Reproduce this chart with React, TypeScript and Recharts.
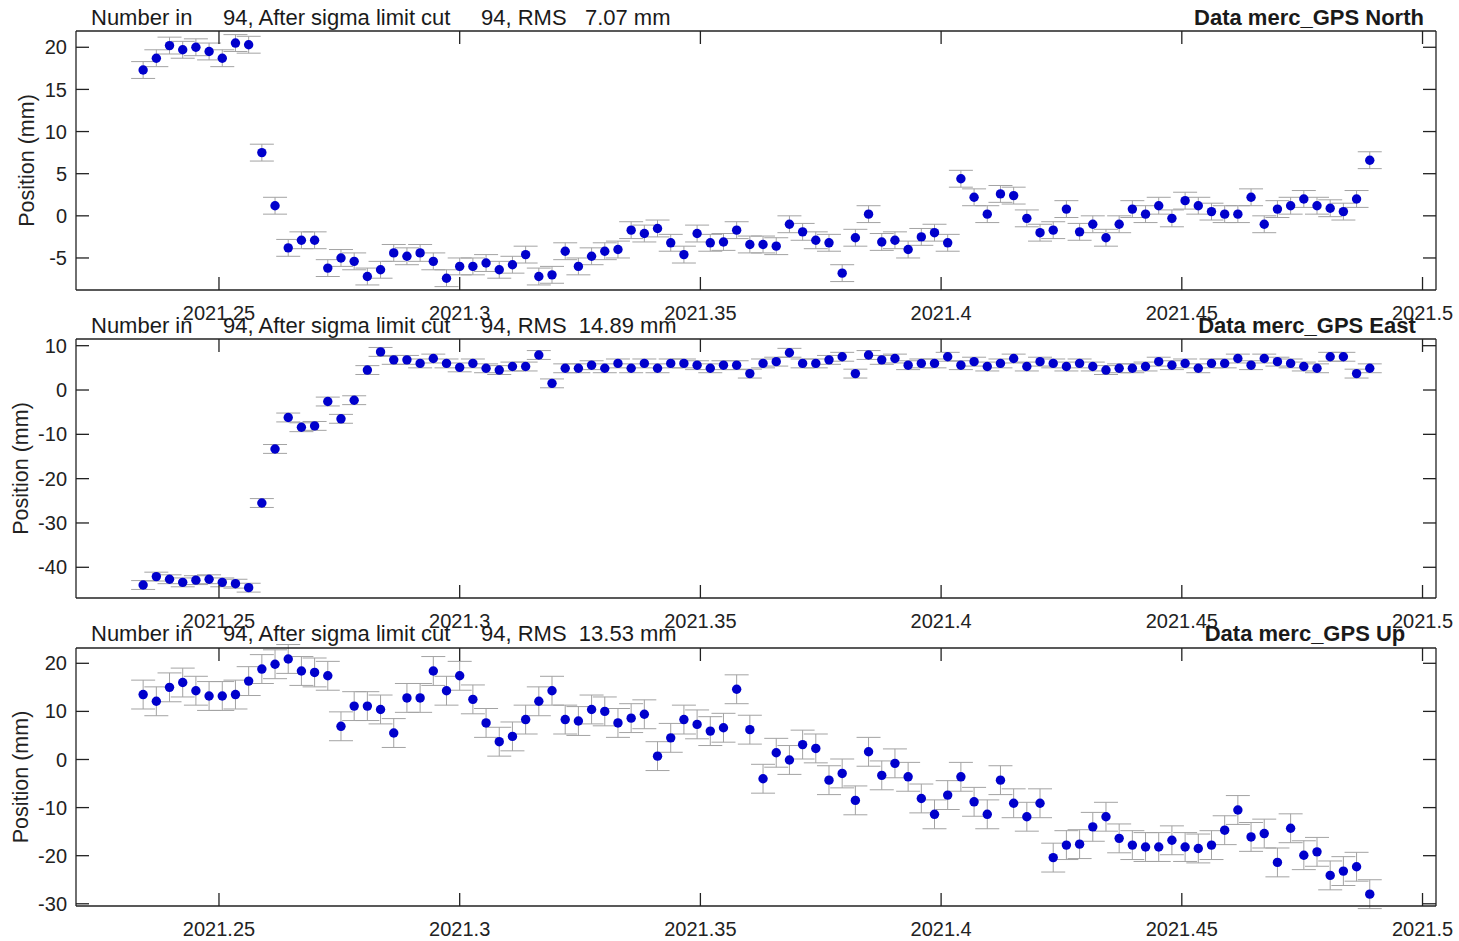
import { ScatterChart, Scatter, XAxis, YAxis, ErrorBar } from "recharts"

// day of year (2021) of each daily solution
const days = [
    86, 87, 88, 89, 90, 91, 92, 93, 94, 95, 96, 97, 98, 99, 100, 101, 102, 103, 104, 105,
    106, 107, 108, 109, 110, 111, 112, 113, 114, 115, 116, 117, 118, 119, 120, 121, 122, 123, 124, 125,
    126, 127, 128, 129, 130, 131, 132, 133, 134, 135, 136, 137, 138, 139, 140, 141, 142, 143, 144, 145,
    146, 147, 148, 149, 150, 151, 152, 153, 154, 155, 156, 157, 158, 159, 160, 161, 162, 163, 164, 165,
    166, 167, 168, 169, 170, 171, 172, 173, 174, 175, 176, 177, 178, 179,
]

const north = [
    17.3, 18.7, 20.2, 19.7, 20.0, 19.5, 18.7, 20.5, 20.3, 7.5,
    1.2, -3.8, -2.9, -2.9, -6.2, -5.0, -5.4, -7.2, -6.4, -4.4,
    -4.8, -4.4, -5.4, -7.4, -6.0, -6.0, -5.6, -6.4, -5.8, -4.6,
    -7.2, -7.0, -4.2, -6.0, -4.8, -4.2, -4.0, -1.7, -2.1, -1.5,
    -3.2, -4.6, -2.1, -3.2, -3.1, -1.7, -3.4, -3.4, -3.6, -1.0,
    -1.9, -2.9, -3.2, -6.8, -2.6, 0.2, -3.1, -2.9, -4.0, -2.5,
    -2.0, -3.2, 4.4, 2.2, 0.2, 2.6, 2.4, -0.3, -2.0, -1.7,
    0.8, -1.9, -1.0, -2.6, -1.0, 0.8, 0.2, 1.2, -0.3, 1.8,
    1.2, 0.5, 0.2, 0.2, 2.2, -1.0, 0.8, 1.2, 2.0, 1.2,
    0.9, 0.5, 2.0, 6.6,
]

const east = [
    -44.0, -42.1, -42.7, -43.4, -42.9, -42.7, -43.4, -43.7, -44.6, -25.5,
    -13.3, -6.2, -8.4, -8.1, -2.6, -6.5, -2.3, 4.5, 8.6, 6.8,
    6.8, 6.0, 7.1, 6.0, 5.1, 6.0, 4.9, 4.5, 5.3, 5.3,
    7.9, 1.5, 4.9, 4.9, 5.6, 4.9, 6.0, 4.9, 6.0, 4.9,
    6.0, 6.0, 5.6, 4.9, 5.6, 5.6, 3.7, 6.0, 6.4, 8.4,
    6.0, 6.0, 6.8, 7.5, 3.7, 7.9, 6.8, 7.1, 5.6, 6.0,
    6.0, 7.5, 5.6, 6.4, 5.3, 6.0, 7.1, 5.3, 6.4, 6.0,
    5.3, 6.0, 5.3, 4.5, 4.9, 4.9, 5.3, 6.4, 5.6, 6.0,
    4.9, 6.0, 6.0, 7.1, 5.6, 7.1, 6.4, 6.0, 5.3, 4.9,
    7.5, 7.5, 3.7, 4.9,
]

const up = [
    13.5, 12.1, 15.0, 16.0, 14.3, 13.2, 13.2, 13.5, 16.3, 18.8,
    19.8, 20.9, 18.4, 18.1, 17.4, 6.9, 11.1, 11.1, 10.4, 5.5,
    12.8, 12.8, 18.4, 14.3, 17.4, 12.5, 7.6, 3.7, 4.8, 8.3,
    12.1, 14.3, 8.3, 8.0, 10.4, 10.0, 7.6, 8.6, 9.4, 0.7,
    4.5, 8.3, 7.3, 5.9, 6.6, 14.6, 6.2, -4.0, 1.4, -0.1,
    3.1, 2.3, -4.3, -2.9, -8.5, 1.6, -3.3, -0.8, -3.6, -8.1,
    -11.4, -7.4, -3.6, -8.8, -11.4, -4.3, -9.1, -11.9, -9.1, -20.4,
    -17.8, -17.6, -14.0, -11.9, -16.4, -17.8, -18.2, -18.2, -16.8, -18.2,
    -18.5, -17.8, -14.7, -10.5, -16.1, -15.4, -21.4, -14.3, -19.9, -19.2,
    -24.1, -23.2, -22.3, -28.0,
]

// formal sigmas (mm)
const northSigma = 1.0
const eastSigma = 1.0
const upSigma = 3.0

const xTicks = [2021.25, 2021.3, 2021.35, 2021.4, 2021.45, 2021.5]
const northTicks = [-5, 0, 5, 10, 15, 20]
const eastTicks = [-40, -30, -20, -10, 0, 10]
const upTicks = [-30, -20, -10, 0, 10, 20]

const numberIn = 94
const afterCut = 94
const rms = [7.07, 14.89, 13.53]
const components = ["North", "East", "Up"]

const W = 1459
const H = 941
const FONT = '"Liberation Sans", Arial, sans-serif'
const xDomain = [2021.2203, 2021.5028]
const TICK_LEN = 13

const panels = [
    { values: north, sigma: northSigma, ticks: northTicks, domain: [-8.8, 21.93], top: 31, bottom: 290, labelX: 26, titleY: 25, tagX: 1309 },
    { values: east, sigma: eastSigma, ticks: eastTicks, domain: [-46.93, 11.51], top: 339, bottom: 598, labelX: 20, titleY: 333, tagX: 1307 },
    { values: up, sigma: upSigma, ticks: upTicks, domain: [-30.46, 23.18], top: 648, bottom: 906, labelX: 20, titleY: 641, tagX: 1305 },
]

const Dot = (props: any) => <circle cx={props.cx} cy={props.cy} r={4.7} fill="#0000cc" />
const NoLabel = () => <g />

const boxStroke = { stroke: "#222", strokeWidth: 1.3 }

// x tick label plus the inward tick marks on the bottom and top edges of the box
const makeXTick = (top: number, bottom: number) => (props: any) => {
    const { x, y, payload } = props
    return (
        <g>
            <line x1={x} x2={x} y1={bottom} y2={bottom - TICK_LEN} {...boxStroke} />
            <line x1={x} x2={x} y1={top} y2={top + TICK_LEN} {...boxStroke} />
            <text x={x} y={y} dy="0.71em" textAnchor="middle" fontSize={20} fill="#222">
                {String(payload.value)}
            </text>
        </g>
    )
}

function Panel({ p }: { p: (typeof panels)[number] }) {
    const data = days.map((d, i) => ({
        t: 2021 + (d - 0.5) / 365,
        v: p.values[i],
        err: p.sigma,
    }))

    return (
        <div style={{ position: "absolute", left: 0, top: 0 }}>
            <ScatterChart
                width={W}
                height={H}
                margin={{ top: p.top, right: 23, bottom: H - p.bottom - 40, left: 0 }}
                style={{ fontFamily: FONT }}
            >
                <XAxis
                    xAxisId="x"
                    dataKey="t"
                    type="number"
                    domain={xDomain}
                    allowDataOverflow
                    ticks={xTicks}
                    interval={0}
                    tickLine={false}
                    axisLine={false}
                    height={40}
                    tickMargin={10}
                    tick={makeXTick(p.top, p.bottom)}
                />
                <XAxis xAxisId="xb" type="number" domain={xDomain} allowDataOverflow ticks={xTicks} interval={0}
                    mirror tick={NoLabel} tickLine={false} axisLine={boxStroke} />
                <XAxis xAxisId="xt" orientation="top" type="number" domain={xDomain} allowDataOverflow ticks={xTicks} interval={0}
                    mirror tick={NoLabel} tickLine={false} axisLine={boxStroke} />
                <YAxis
                    yAxisId="y"
                    dataKey="v"
                    type="number"
                    domain={p.domain}
                    allowDataOverflow
                    ticks={p.ticks}
                    interval={0}
                    tickLine={false}
                    axisLine={false}
                    width={76}
                    tickMargin={3}
                    tick={{ fontSize: 20, fill: "#222" }}
                    label={{
                        value: "Position (mm)",
                        angle: -90,
                        position: "insideLeft",
                        offset: p.labelX,
                        style: { textAnchor: "middle", fontSize: 21.5, fill: "#222" },
                    }}
                />
                <YAxis yAxisId="yl" type="number" domain={p.domain} allowDataOverflow ticks={p.ticks} interval={0}
                    mirror tick={NoLabel} tickSize={TICK_LEN} axisLine={boxStroke} tickLine={boxStroke} />
                <YAxis yAxisId="yr" orientation="right" type="number" domain={p.domain} allowDataOverflow ticks={p.ticks} interval={0}
                    mirror tick={NoLabel} tickSize={TICK_LEN} axisLine={boxStroke} tickLine={boxStroke} />
                <Scatter xAxisId="x" yAxisId="y" data={data} shape={Dot} isAnimationActive={false}>
                    <ErrorBar dataKey="err" direction="y" width={12} stroke="#a3a3a3" strokeWidth={1} isAnimationActive={false} />
                </Scatter>
            </ScatterChart>
        </div>
    )
}

const App = () => {
    return (
        <div style={{ position: "absolute", left: 0, top: 0, width: W, height: H, background: "#fff" }}>
            {panels.map((p, i) => (
                <Panel key={i} p={p} />
            ))}
            <svg width={W} height={H} style={{ position: "absolute", left: 0, top: 0, pointerEvents: "none", fontFamily: FONT }}>
                {panels.map((p, i) => (
                    <g key={i} fill="#1a1a1a" fontSize={22}>
                        <text x={91} y={p.titleY} xmlSpace="preserve" style={{ whiteSpace: "pre" }}>
                            {`Number in ${String(numberIn).padStart(6)}, After sigma limit cut ${String(afterCut).padStart(6)}, RMS ${rms[i].toFixed(2).padStart(6)} mm`}
                        </text>
                        <text x={p.tagX} y={p.titleY} textAnchor="middle" fontWeight="bold">
                            {`Data merc_GPS ${components[i]}`}
                        </text>
                    </g>
                ))}
            </svg>
        </div>
    )
}

export default App
